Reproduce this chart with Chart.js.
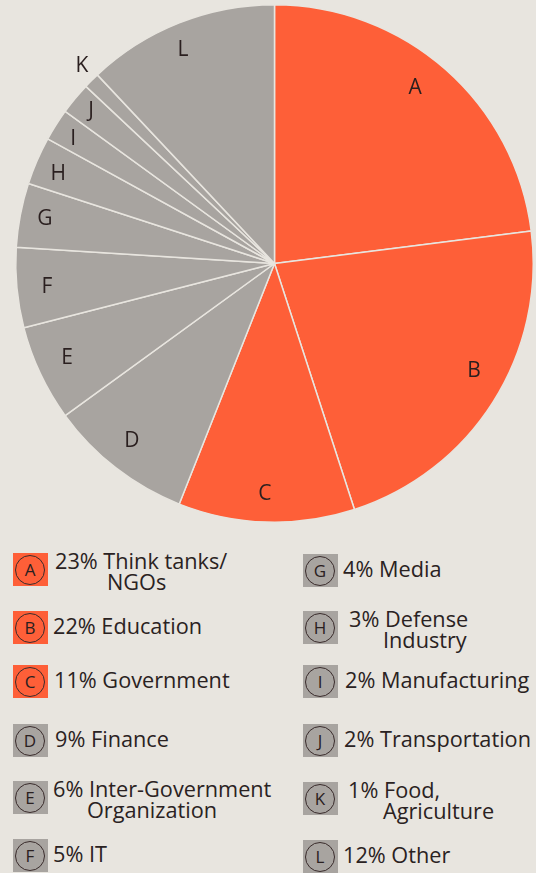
<!DOCTYPE html>
<html>
<head>
<meta charset="utf-8">
<script src="https://cdn.jsdelivr.net/npm/chart.js@4/dist/chart.umd.min.js"></script>
<style>
  html, body { margin: 0; padding: 0; }
  body { width: 536px; height: 873px; background: #e8e5df; position: relative; overflow: hidden;
         font-family: "Open Sans", "Noto Sans", sans-serif; color: #2a2222; }
  #pieWrap { position: absolute; left: 0; top: 0; width: 536px; height: 530px; }
  .key { position: absolute; }
  .swatch { position: absolute; left: 0; top: 0; width: 35px; height: 33px; }
  .swatch span { position: absolute; left: 2px; top: 1.5px; width: 28px; height: 28px; border: 1px solid #3a2c2c;
                 border-radius: 50%; font-size: 17px; line-height: 28px; text-align: center; color: #2a2020; }
  .txt { position: absolute; font-size: 21.7px; line-height: 21px; white-space: nowrap; }
</style>
</head>
<body>
<div id="pieWrap"><canvas id="pie"></canvas></div>
<div id="legend"></div>
<script>
// sector breakdown, clockwise from 12 o'clock
const letters = ['A', 'B', 'C', 'D', 'E', 'F', 'G', 'H', 'I', 'J', 'K', 'L'];
const shares = [23, 22, 11, 9, 6, 5, 4, 3, 2, 2, 1, 12];
const sectors = ['Think tanks/\nNGOs', 'Education', 'Government', 'Finance', 'Inter-Government\nOrganization', 'IT',
                 'Media', 'Defense\nIndustry', 'Manufacturing', 'Transportation', 'Food,\nAgriculture', 'Other'];
const highlighted = [true, true, true, false, false, false, false, false, false, false, false, false];

const ORANGE = '#fe5f38';
const GREY = '#a8a4a0';
const BG = '#e8e5df';
const colors = highlighted.map(h => h ? ORANGE : GREY);

// where each letter sits: fraction of the radius, and a small nudge (degrees) off the slice's middle
const letterRadius = [0.869, 0.876, 0.892, 0.88, 0.881, 0.884, 0.904, 0.905, 0.915, 0.922, 1.066, 0.898];
const letterNudge = [-2.7, -4.1, 0.6, 1, 0.7, -0.5, 0.2, -0.9, -0.7, 0.1, 0.7, -1.6];

const sliceLetters = {
    id: 'sliceLetters',
    afterDatasetsDraw(chart) {
        const ctx = chart.ctx;
        const arcs = chart.getDatasetMeta(0).data;
        ctx.save();
        ctx.font = '21px "Open Sans", "Noto Sans", sans-serif';
        ctx.fillStyle = '#2a1f1f';
        ctx.textAlign = 'center';
        ctx.textBaseline = 'middle';
        arcs.forEach((arc, i) => {
            const mid = (arc.startAngle + arc.endAngle) / 2 + letterNudge[i] * Math.PI / 180;
            const r = arc.outerRadius * letterRadius[i];
            ctx.fillText(letters[i], arc.x + Math.cos(mid) * r, arc.y + Math.sin(mid) * r);
        });
        ctx.restore();
    }
};

new Chart(document.getElementById('pie'), {
    type: 'pie',
    data: {
        labels: letters,
        datasets: [{
            data: shares,
            backgroundColor: colors,
            borderColor: BG,
            borderWidth: 1.5
        }]
    },
    options: {
        responsive: true,
        maintainAspectRatio: false,
        animation: false,
        layout: { padding: { left: 15, right: 2, top: 4, bottom: 7 } },
        plugins: { legend: { display: false }, tooltip: { enabled: false } }
    },
    plugins: [sliceLetters]
});

// key: two columns of six
const keyPos = [
    { x: 13, y: 553, tx: 42, ind: 52 }, { x: 13, y: 611, tx: 40 }, { x: 13, y: 665, tx: 41 },
    { x: 13, y: 724, tx: 42 }, { x: 13, y: 781, tx: 40, ind: 34 }, { x: 13, y: 839, tx: 40 },
    { x: 303, y: 554, tx: 40 }, { x: 303, y: 611, tx: 46, ind: 34 }, { x: 303, y: 665, tx: 42 },
    { x: 303, y: 724, tx: 41 }, { x: 303, y: 782, tx: 45, ind: 35 }, { x: 303, y: 840, tx: 40 }
];

const legend = document.getElementById('legend');
legend.innerHTML = letters.map((l, i) => {
    const p = keyPos[i];
    const lines = `${shares[i]}% ${sectors[i]}`.split('\n');
    const top = lines.length > 1 ? -3 : 4;
    return `
        <div class="key" style="left:${p.x}px;top:${p.y}px">
            <div class="swatch" style="background:${colors[i]}"><span>${l}</span></div>
            <div class="txt" style="left:${p.tx}px;top:${top}px">
                ${lines.map((t, j) => `<div style="padding-left:${j ? p.ind : 0}px">${t}</div>`).join('')}
            </div>
        </div>`;
}).join('');
</script>
</body>
</html>
